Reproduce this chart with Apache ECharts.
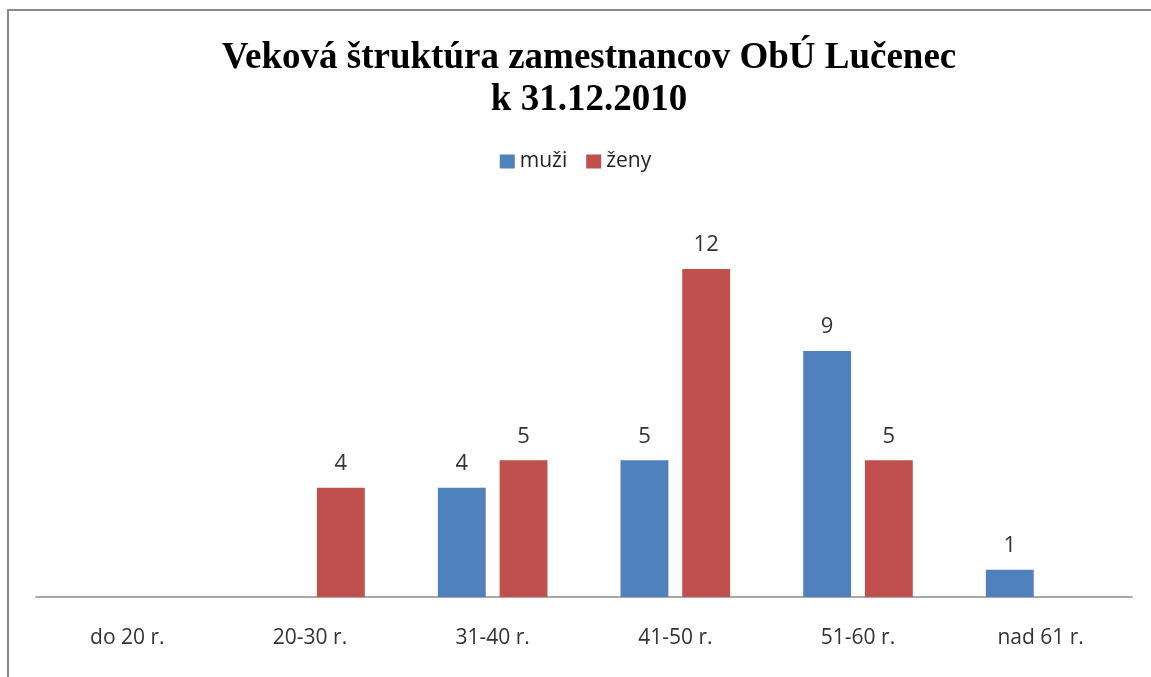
<!DOCTYPE html>
<html><head><meta charset="utf-8">
<script src="https://cdn.jsdelivr.net/npm/echarts@6/dist/echarts.min.js"></script>
<style>html,body{margin:0;padding:0;background:#fff;overflow:hidden}
#frame{position:absolute;left:7px;top:9px;width:1200px;height:720px;border:2px solid #8c8c8c;box-sizing:border-box}
#c{position:absolute;left:0;top:0;width:1151px;height:677px}</style>
</head><body><div id="frame"></div><div id="c"></div>
<script>
const categories = ['do 20 r.', '20-30 r.', '31-40 r.', '41-50 r.', '51-60 r.', 'nad 61 r.'];
const muzi = [0, 0, 4, 5, 9, 1];
const zeny = [0, 4, 5, 12, 5, 0];
const seriesNames = ['muži', 'ženy'];
const titleText = 'Veková štruktúra zamestnancov ObÚ Lučenec\nk 31.12.2010';

const chart = echarts.init(document.getElementById('c'));
const lbl = {show: true, position: 'top', distance: 13, color: '#333', fontSize: 22, fontFamily: 'Open Sans',
  formatter: p => p.value === 0 ? '' : p.value};
chart.setOption({
  backgroundColor: 'transparent',
  title: {text: titleText, left: 584, textAlign: 'center', top: 32,
    textStyle: {fontFamily: 'Liberation Serif', fontWeight: 'bold', fontSize: 37, color: '#000', lineHeight: 42}},
  legend: {data: seriesNames, top: 146, left: 'center', itemWidth: 15, itemHeight: 14, itemGap: 19,
    icon: 'rect', textStyle: {fontFamily: 'Open Sans', fontSize: 21, color: '#222'}},
  grid: {left: 36, right: 19, top: 214.33, bottom: 80, containLabel: false},
  xAxis: {type: 'category', data: categories,
    axisLine: {lineStyle: {color: '#8c8c8c', width: 1.5}}, axisTick: {show: false},
    axisLabel: {margin: 31, color: '#333', fontFamily: 'Open Sans', fontSize: 21}},
  yAxis: {type: 'value', min: 0, max: 14, show: false, splitLine: {show: false}},
  series: [
    {name: seriesNames[0], type: 'bar', data: muzi, itemStyle: {color: '#4F81BD'}, barGap: '29%', barCategoryGap: '40%', label: lbl},
    {name: seriesNames[1], type: 'bar', data: zeny, itemStyle: {color: '#C0504D'}, label: lbl}
  ]
});
</script></body></html>
